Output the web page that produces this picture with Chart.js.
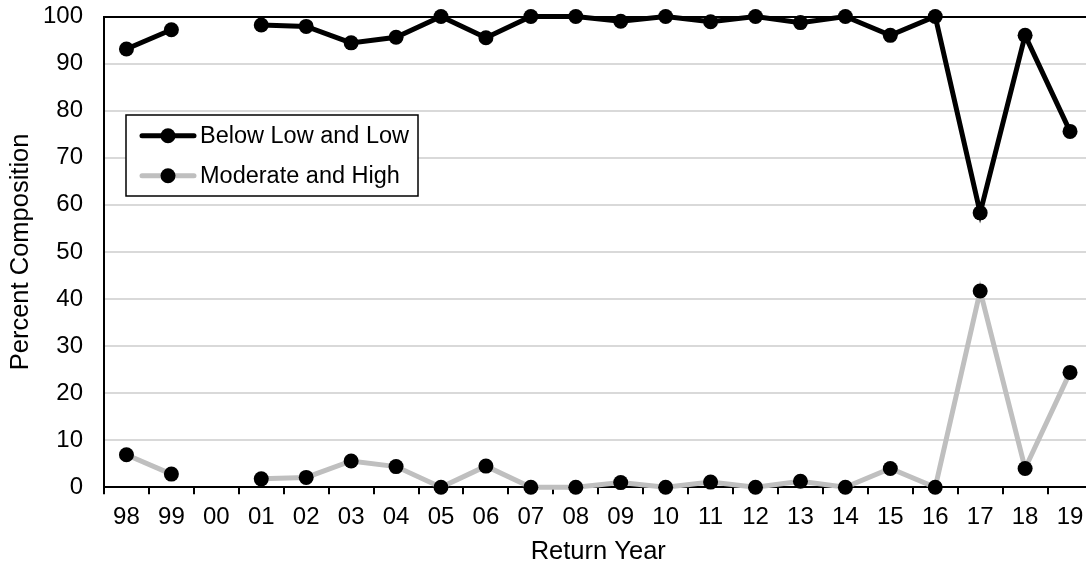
<!DOCTYPE html>
<html>
<head>
<meta charset="utf-8">
<script src="https://cdn.jsdelivr.net/npm/chart.js@4/dist/chart.umd.min.js"></script>
<style>
    html, body { margin: 0; padding: 0; background: #fff; overflow: hidden; }
    #wrap { position: absolute; left: 0; top: 0; width: 1100px; height: 567px; }
</style>
</head>
<body>
<div id="wrap"><canvas id="compositionChart" width="1100" height="567"></canvas></div>
<script>
    // Data
    var returnYears = ['98','99','00','01','02','03','04','05','06','07','08','09','10','11','12','13','14','15','16','17','18','19'];
    var belowLowAndLow = [93.1, 97.2, null, 98.2, 97.9, 94.4, 95.6, 100, 95.5, 100, 100, 99.0, 100, 98.9, 100, 98.7, 100, 96.0, 100, 58.3, 96.0, 75.6];
    var moderateAndHigh = [6.9, 2.8, null, 1.8, 2.1, 5.6, 4.4, 0, 4.5, 0, 0, 1.0, 0, 1.1, 0, 1.3, 0, 4.0, 0, 41.7, 4.0, 24.4];
    var yTicks = [0, 10, 20, 30, 40, 50, 60, 70, 80, 90, 100];

    var FONT = '"Liberation Sans", Arial, sans-serif';
    Chart.defaults.font.family = FONT;
    Chart.defaults.color = '#000';

    // legend box drawn inside the plot, like the original
    var boxLegend = {
        id: 'boxLegend',
        afterDatasetsDraw: function(chart){
            var ctx = chart.ctx;
            ctx.save();
            ctx.fillStyle = '#fff';
            ctx.fillRect(126, 115, 292, 81);
            ctx.strokeStyle = '#000';
            ctx.lineWidth = 1.5;
            ctx.strokeRect(126, 115, 292, 81);

            chart.data.datasets.forEach(function(ds, i){
                var y = 135.7 + i * 40;
                ctx.strokeStyle = ds.borderColor;
                ctx.lineWidth = 5;
                ctx.lineCap = 'round';
                ctx.beginPath();
                ctx.moveTo(142, y);
                ctx.lineTo(194, y);
                ctx.stroke();
                ctx.fillStyle = '#000';
                ctx.beginPath();
                ctx.arc(168, y, 7.5, 0, Math.PI * 2);
                ctx.fill();
                ctx.font = '23.5px ' + FONT;
                ctx.textBaseline = 'middle';
                ctx.textAlign = 'left';
                ctx.fillText(ds.label, 200, y + 1);
            });
            ctx.restore();
        }
    };

    function _series(label, data, color){
        return {
            label: label,
            data: data,
            borderColor: color,
            backgroundColor: '#000',
            borderWidth: 5,
            pointRadius: 7.5,
            pointHoverRadius: 7.5,
            pointBackgroundColor: '#000',
            pointBorderWidth: 0,
            spanGaps: false,
            clip: false,
            tension: 0
        };
    }

    var config = {
        type: 'line',
        data: {
            labels: returnYears,
            datasets: [
                _series('Below Low and Low', belowLowAndLow, '#000000'),
                _series('Moderate and High', moderateAndHigh, '#bfbfbf')
            ]
        },
        options: {
            responsive: false,
            animation: false,
            devicePixelRatio: 1,
            layout: { padding: { top: 16.5, right: 4, left: 0, bottom: 0 } },
            plugins: {
                legend: { display: false },
                tooltip: { enabled: false }
            },
            scales: {
                x: {
                    offset: true,
                    grid: {
                        offset: true,
                        drawOnChartArea: false,
                        drawTicks: true,
                        tickLength: 7,
                        color: '#000',
                        lineWidth: 2
                    },
                    border: { display: true, color: '#000', width: 2 },
                    ticks: { font: { size: 24 }, padding: 9, maxRotation: 0, autoSkip: false },
                    title: { display: true, text: 'Return Year', font: { size: 25.5 }, padding: { top: 0, bottom: 0 } },
                    afterFit: function(scale){
                        scale.height = 79.7;
                        scale.paddingLeft = 0;
                        scale.paddingRight = 0;
                    }
                },
                y: {
                    min: 0,
                    max: 100,
                    afterBuildTicks: function(scale){
                        scale.ticks = yTicks.map(function(v){ return { value: v }; });
                    },
                    grid: {
                        drawTicks: false,
                        color: function(c){ return c.tick && c.tick.value === 100 ? '#000' : '#d9d9d9'; },
                        lineWidth: 2
                    },
                    border: { display: true, color: '#000', width: 2 },
                    ticks: { font: { size: 24 }, padding: 21 },
                    title: { display: true, text: 'Percent Composition', font: { size: 25.5 }, padding: { top: 6, bottom: 0 } },
                    afterFit: function(scale){
                        scale.width = 104;
                        scale.paddingTop = 0;
                        scale.paddingBottom = 0;
                    }
                }
            }
        },
        plugins: [boxLegend]
    };

    var chart = new Chart(document.getElementById('compositionChart'), config);
</script>
</body>
</html>
